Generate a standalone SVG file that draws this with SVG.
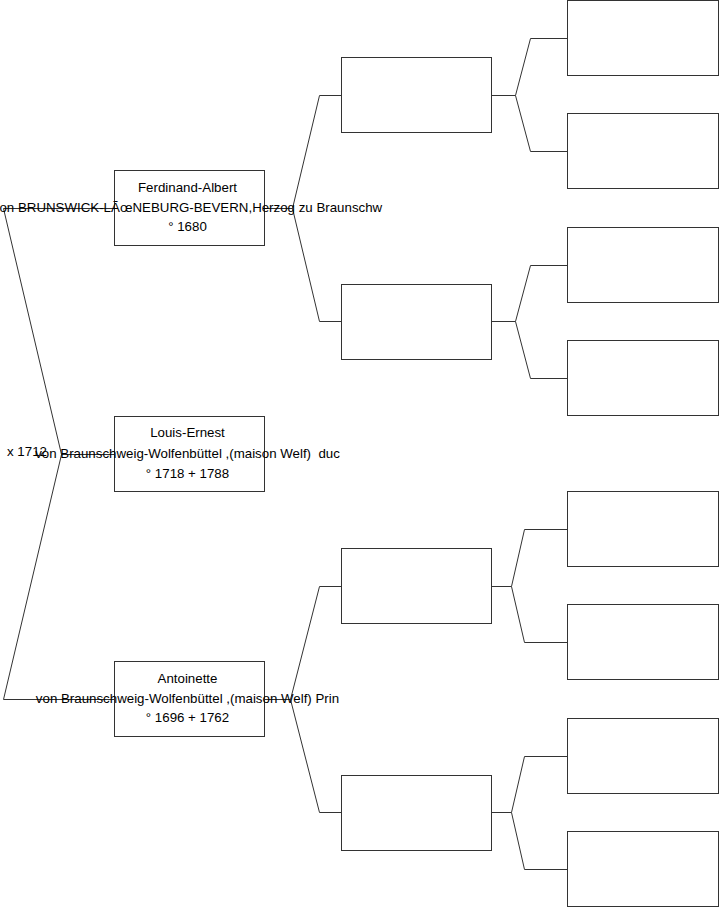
<svg xmlns="http://www.w3.org/2000/svg" width="719" height="908" viewBox="0 0 719 908">
<style>
.box{fill:#fff;stroke:#333;stroke-width:1}
.ln{fill:none;stroke:#333;stroke-width:1}
text{font-family:"Liberation Sans",Arial,sans-serif;font-size:13.3px;fill:#000}
.c{text-anchor:middle}
</style>
<rect width="719" height="908" fill="#fff"/>
<g id="connectors">
<polyline class="ln" points="114,208.5 3.5,208.5 61.5,454.5 3.5,699.5 114,699.5"/>
<line class="ln" x1="61.5" y1="454.5" x2="114" y2="454.5"/>
<polyline class="ln" points="319.5,95.5 292.5,208.5 319.5,321.5"/>
<line class="ln" x1="265" y1="208.5" x2="292.5" y2="208.5"/>
<line class="ln" x1="319.5" y1="95.5" x2="341" y2="95.5"/>
<line class="ln" x1="319.5" y1="321.5" x2="341" y2="321.5"/>
<polyline class="ln" points="319.5,586.5 290.5,699.5 319.5,812.5"/>
<line class="ln" x1="265" y1="699.5" x2="290.5" y2="699.5"/>
<line class="ln" x1="319.5" y1="586.5" x2="341" y2="586.5"/>
<line class="ln" x1="319.5" y1="812.5" x2="341" y2="812.5"/>
<polyline class="ln" points="567,38.5 530.5,38.5 515.5,95.5 530.5,151.5 567,151.5"/>
<line class="ln" x1="492" y1="95.5" x2="515.5" y2="95.5"/>
<polyline class="ln" points="567,265.5 530.5,265.5 515.5,321.5 530.5,378.5 567,378.5"/>
<line class="ln" x1="492" y1="321.5" x2="515.5" y2="321.5"/>
<polyline class="ln" points="567,529.5 524.5,529.5 511.5,586.5 524.5,642.5 567,642.5"/>
<line class="ln" x1="492" y1="586.5" x2="511.5" y2="586.5"/>
<polyline class="ln" points="567,756.5 524.5,756.5 511.5,812.5 524.5,869.5 567,869.5"/>
<line class="ln" x1="492" y1="812.5" x2="511.5" y2="812.5"/>
</g>
<g id="ferdinand">
<rect class="box" x="114.5" y="170.5" width="150" height="75"/>
<text class="c" x="187.5" y="191.5">Ferdinand-Albert</text>
<text class="c" x="187.5" y="211.5">von BRUNSWICK-LÃœNEBURG-BEVERN,Herzog zu Braunschw</text>
<text class="c" x="187.5" y="231">° 1680</text>
</g>
<g id="louis">
<rect class="box" x="114.5" y="416.5" width="150" height="75"/>
<text class="c" x="187.5" y="437">Louis-Ernest</text>
<text class="c" x="187.5" y="457.5" xml:space="preserve">von Braunschweig-Wolfenbüttel ,(maison Welf)  duc</text>
<text class="c" x="187.5" y="477.5">° 1718 + 1788</text>
</g>
<g id="marriage">
<text x="7" y="456">x 1712</text>
</g>
<g id="antoinette">
<rect class="box" x="114.5" y="661.5" width="150" height="75"/>
<text class="c" x="187.5" y="682.5">Antoinette</text>
<text class="c" x="187.5" y="702.5">von Braunschweig-Wolfenbüttel ,(maison Welf) Prin</text>
<text class="c" x="187.5" y="722">° 1696 + 1762</text>
</g>
<g id="g2a"><rect class="box" x="341.5" y="57.5" width="150" height="75"/></g>
<g id="g2b"><rect class="box" x="341.5" y="284.5" width="150" height="75"/></g>
<g id="g2c"><rect class="box" x="341.5" y="548.5" width="150" height="75"/></g>
<g id="g2d"><rect class="box" x="341.5" y="775.5" width="150" height="75"/></g>
<g id="g3a"><rect class="box" x="567.5" y="0.5" width="151" height="75"/></g>
<g id="g3b"><rect class="box" x="567.5" y="113.5" width="151" height="75"/></g>
<g id="g3c"><rect class="box" x="567.5" y="227.5" width="151" height="75"/></g>
<g id="g3d"><rect class="box" x="567.5" y="340.5" width="151" height="75"/></g>
<g id="g3e"><rect class="box" x="567.5" y="491.5" width="151" height="75"/></g>
<g id="g3f"><rect class="box" x="567.5" y="604.5" width="151" height="75"/></g>
<g id="g3g"><rect class="box" x="567.5" y="718.5" width="151" height="75"/></g>
<g id="g3h"><rect class="box" x="567.5" y="831.5" width="151" height="75"/></g>
</svg>
